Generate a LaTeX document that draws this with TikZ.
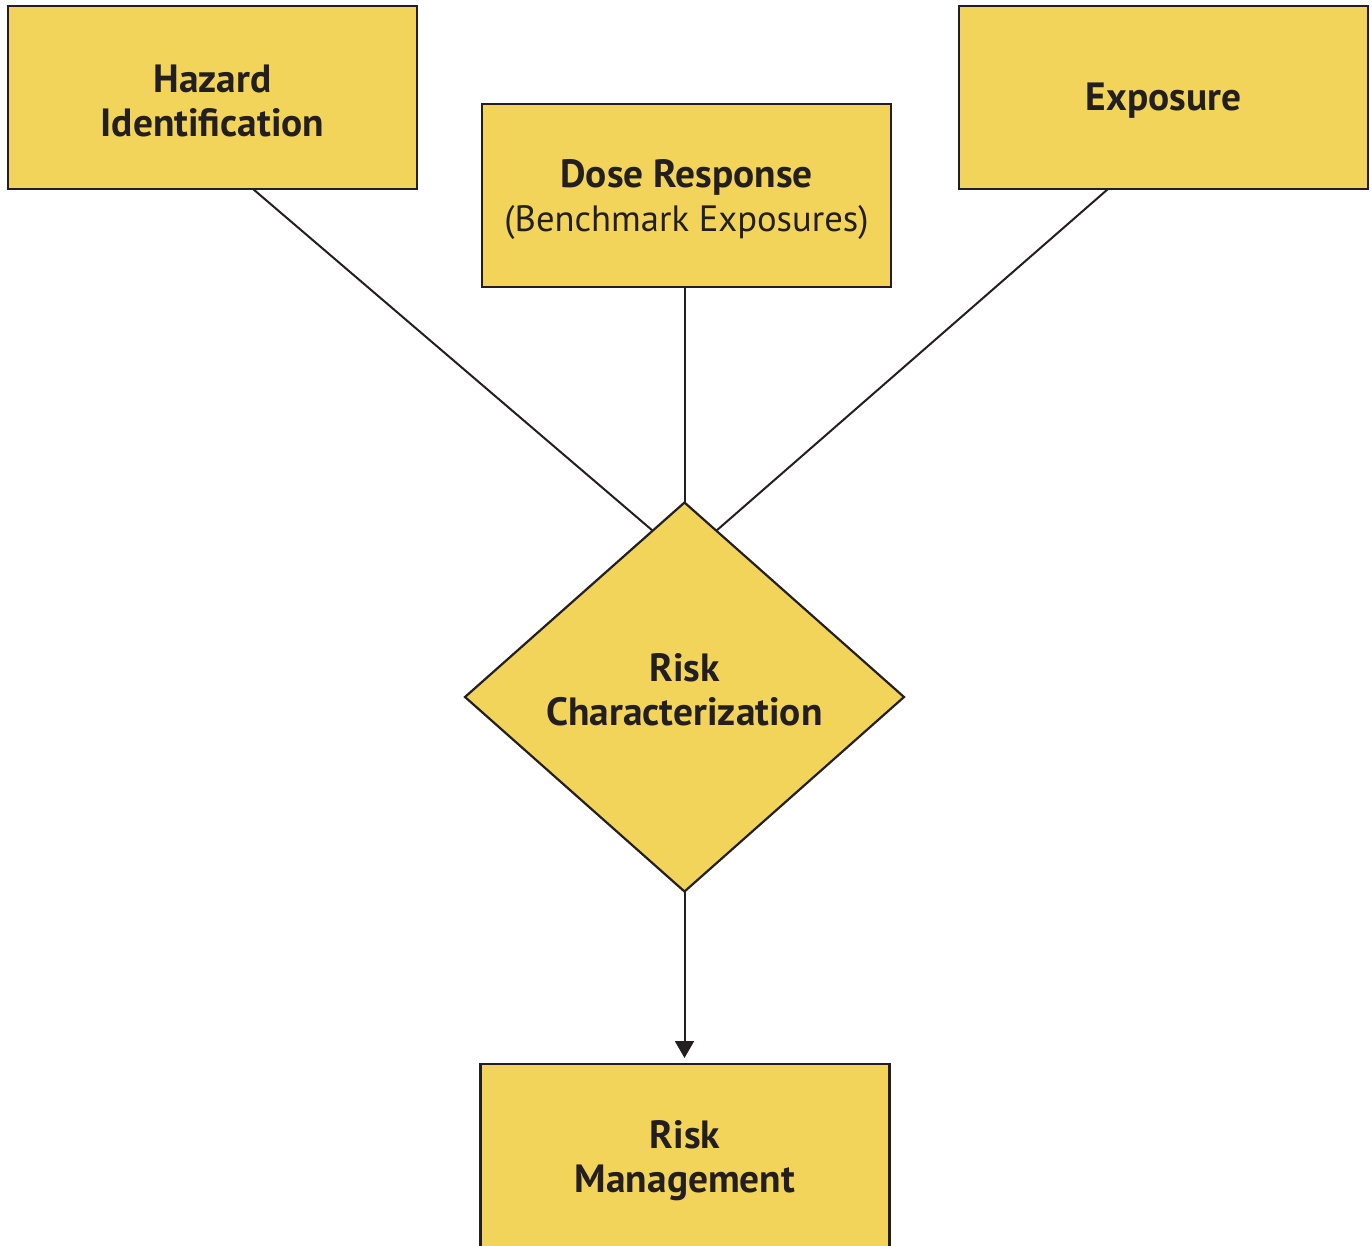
\documentclass[tikz,border=0pt]{standalone}
\usepackage{fontspec}
\setmainfont{PT Sans}
\usetikzlibrary{shapes.geometric,arrows.meta,calc}
\definecolor{boxfill}{HTML}{F2D45A}
\definecolor{ink}{HTML}{231F20}
\begin{document}
\begin{tikzpicture}[x=1pt,y=-1pt,
  box/.style={draw=ink,fill=boxfill,line width=2.2pt,minimum width=409pt,minimum height=183pt,
    inner sep=0pt,outer sep=0pt},
  dia/.style={diamond,draw=ink,fill=boxfill,line width=2.2pt,minimum width=439pt,minimum height=389pt,
    inner sep=0pt,outer sep=0pt},
  lbl/.style={align=center,text=ink,font=\fontsize{39.4}{44}\selectfont\bfseries},
  conn/.style={draw=ink,line width=2pt}]
\useasboundingbox (0,0) rectangle (1372,1245);
\clip (0,0) rectangle (1372,1245);
\fill[white] (0,0) rectangle (1372,1245);
\node[box] (hz) at (212.5,97.5) {};
\node[lbl] (hzt) at ([yshift=-3pt]hz.center) {Hazard\\Identification};
\node[box] (dr) at (686.5,195.5) {};
\node[lbl] (drt) at ([yshift=-4pt]dr.center) {Dose Response\\{\mdseries\fontsize{36.6}{44}\selectfont(Benchmark Exposures)}};
\node[box] (ex) at (1163.5,97.5) {};
\node[lbl] (ext) at ([yshift=-3pt]ex.center) {Exposure};
\node[dia] (rc) at (684.5,697) {};
\node[lbl] (rct) at (684.5,690) {Risk\\Characterization};
\node[box] (rm) at (685,1155.5) {};
\node[lbl] (rmt) at ([yshift=-5pt]rm.center) {Risk\\Management};
\coordinate (hzend) at ($(rc.north)!0.145!(rc.west)$);
\coordinate (exend) at ($(rc.north)!0.145!(rc.east)$);
\draw[conn] ([xshift=40.5pt]hz.south) -- (hzend);
\draw[conn] ([xshift=-55.5pt]ex.south) -- (exend);
\draw[conn] (dr.south -| rc.north) -- (rc.north);
\draw[conn,-{Triangle[length=17pt,width=19pt]},shorten >=6pt] (rc.south) -- (rc.south |- rm.north);
\end{tikzpicture}
\end{document}
